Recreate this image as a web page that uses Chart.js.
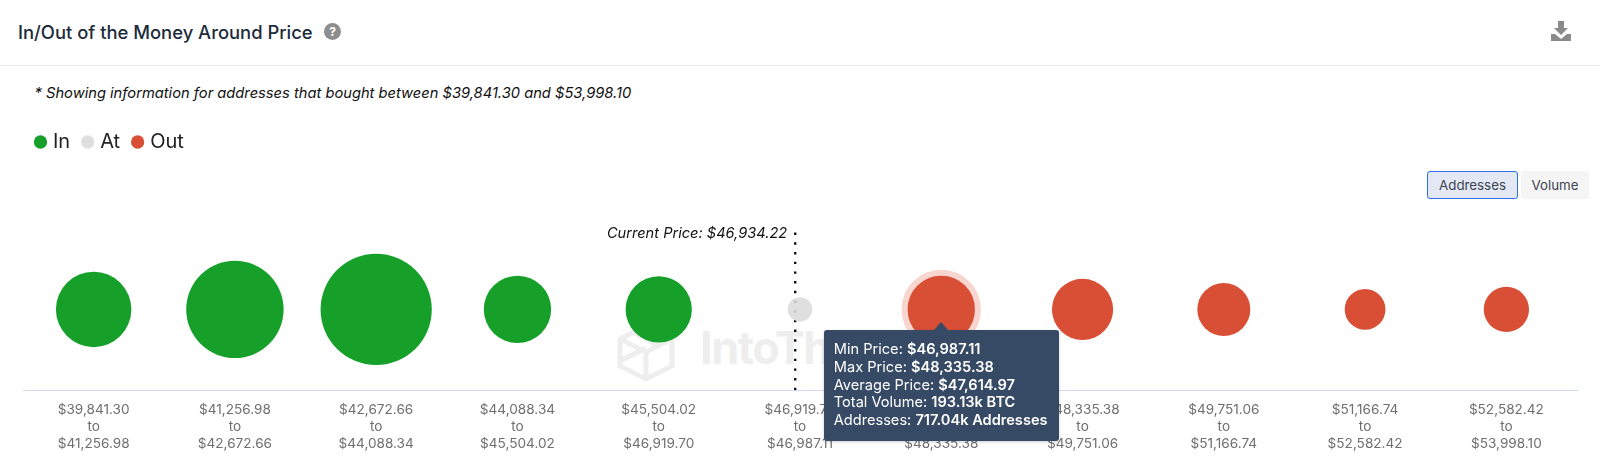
<!DOCTYPE html>
<html>
<head>
<meta charset="utf-8">
<title>In/Out of the Money Around Price</title>
<script src="https://cdn.jsdelivr.net/npm/chart.js@4"></script>
<style>
  html, body { margin: 0; padding: 0; background: #fff; }
  body { width: 1600px; height: 473px; position: relative; overflow: hidden; font-family: Inter, sans-serif; }
  .titulo { position: absolute; left: 18px; top: 21px; font-size: 18.4px; font-weight: 500; color: #1c2b3a; line-height: 22px; white-space: nowrap; }
  .ayuda { position: absolute; left: 324px; top: 23px; width: 17px; height: 17px; border-radius: 50%; background: #8e8e8e; color: #fff; font-size: 12px; font-weight: 700; line-height: 17px; text-align: center; }
  .linea { position: absolute; left: 0; top: 65px; width: 1600px; height: 1px; background: #ececec; }
  .nota { position: absolute; left: 34.5px; top: 84px; font-size: 14.7px; font-style: italic; color: #111; line-height: 18px; white-space: nowrap; }
  .descarga { position: absolute; left: 1551px; top: 21px; }
  .btn { position: absolute; top: 171px; height: 28px; line-height: 28px; text-align: center; font-size: 13.3px; color: #3c4450; border-radius: 3px; box-sizing: border-box; }
  #btnAddr { left: 1427px; width: 91px; background: #e3e8f4; border: 1px solid #2f6fed; line-height: 26px; }
  #btnVol { left: 1521px; width: 68px; background: #f5f5f5; }
  .marca { position: absolute; left: 617px; top: 323px; height: 59px; display: flex; align-items: center; color: #eeeeee; font-size: 45px; font-weight: 700; letter-spacing: -1.5px; white-space: nowrap; }
  .marca svg { margin-right: 25px; }
  .marca span { position: relative; top: -5px; }
  #lienzo { position: absolute; left: 0; top: 117px; width: 1600px; height: 356px; }
  #tip { position: absolute; display: none; width: 235px; box-sizing: border-box; padding: 10.5px 10px; background: #364a66; color: #fff; border-radius: 3px; font-size: 14.6px; line-height: 17.85px; white-space: nowrap; box-shadow: 0 1px 3px rgba(0,0,0,.2); }
  #tip b { font-weight: 600; }
  #tip::before { content: ""; position: absolute; left: 50%; top: -8px; margin-left: -7px; border-left: 7px solid transparent; border-right: 7px solid transparent; border-bottom: 8px solid #364a66; }
</style>
</head>
<body>
<div class="titulo">In/Out of the Money Around Price</div>
<div class="ayuda">?</div>
<div class="linea"></div>
<div class="nota">* Showing information for addresses that bought between $39,841.30 and $53,998.10</div>
<svg class="descarga" width="20" height="21" viewBox="0 0 20 21">
  <path d="M7 0h6v7h4l-7 7-7-7h4z" fill="#8a8a8a"/>
  <path d="M0 13h4l6 5 6-5h4v7H0z" fill="#8a8a8a"/>
</svg>
<div class="marca">
  <svg width="58" height="59" viewBox="0 0 58 59" fill="none" stroke="#eeeeee" stroke-width="5">
    <path d="M29 3 55 16v27L29 56 3 43V16z"/><path d="M3 16l26 13 26-13M29 29v27M16 9l26 14M3 38l26-13"/>
  </svg>
  <span>IntoTheBlock</span>
</div>
<div id="lienzo"><canvas id="grafico" width="1600" height="356"></canvas></div>
<div class="btn" id="btnAddr">Addresses</div>
<div class="btn" id="btnVol">Volume</div>
<div id="tip"></div>

<script>
const desde = ["$39,841.30","$41,256.98","$42,672.66","$44,088.34","$45,504.02","$46,919.70","$46,987.11","$48,335.38","$49,751.06","$51,166.74","$52,582.42"];
const hasta = ["$41,256.98","$42,672.66","$44,088.34","$45,504.02","$46,919.70","$46,987.11","$48,335.38","$49,751.06","$51,166.74","$52,582.42","$53,998.10"];
// direcciones en miles, estimadas del tamaño de cada burbuja
const direcciones = [901, 1500, 1956, 717, 695, 95, 717.04, 593, 445, 263, 325];
const estados = ["In","In","In","In","In","At","Out","Out","Out","Out","Out"];
const colores = { In: "#16a02a", At: "rgba(218,218,218,0.87)", Out: "#d94f36" };
const precioActualTxt = "$46,934.22";
const posPrecioActual = 4.966;
const detalle = [
  ["Min Price: ", "$46,987.11"],
  ["Max Price: ", "$48,335.38"],
  ["Average Price: ", "$47,614.97"],
  ["Total Volume: ", "193.13k BTC"],
  ["Addresses: ", "717.04k Addresses"]
];
const indiceActivo = 6;

const radio = v => 1.257 * Math.sqrt(v);

function puntos(estado) {
  const res = [];
  direcciones.forEach((v, i) => {
    if (estados[i] === estado) res.push({ x: i, y: 0.495, r: radio(v) });
  });
  return res;
}

function serie(estado) {
  return {
    type: "bubble",
    label: estado,
    data: puntos(estado),
    backgroundColor: colores[estado],
    hoverBackgroundColor: colores[estado],
    borderWidth: 0,
    borderColor: "#f7d6cf",
    hoverBorderColor: "#f7d6cf",
    hoverBorderWidth: 6,
    hoverRadius: 3
  };
}

// deja sitio entre la leyenda y el area del grafico
const espacioLeyenda = {
  id: "espacioLeyenda",
  beforeInit(chart) {
    const fit = chart.legend.fit;
    chart.legend.fit = function () {
      fit.call(this);
      this.height += 65;
    };
  }
};

const rotuloPrecio = {
  id: "rotuloPrecio",
  afterDatasetsDraw(chart) {
    const { ctx, scales } = chart;
    ctx.save();
    ctx.font = "italic 14.6px Inter";
    ctx.fillStyle = "#111";
    ctx.textAlign = "right";
    ctx.textBaseline = "middle";
    ctx.fillText("Current Price: " + precioActualTxt, scales.x.getPixelForValue(posPrecioActual) - 8, scales.y.top + 7);
    ctx.restore();
  }
};

function tooltipExterno({ chart, tooltip }) {
  const tip = document.getElementById("tip");
  if (tooltip.opacity === 0 || !tooltip.dataPoints) { tip.style.display = "none"; return; }
  tip.innerHTML = detalle.map(d => `${d[0]}<b>${d[1]}</b>`).join("<br>");
  const el = tooltip.dataPoints[0].element;
  const caja = chart.canvas.getBoundingClientRect();
  tip.style.display = "block";
  tip.style.left = (caja.left + el.x - 117.5) + "px";
  tip.style.top = (caja.top + el.y + 21) + "px";
}

const chart = new Chart(document.getElementById("grafico"), {
  data: {
    datasets: [
      serie("In"),
      serie("At"),
      serie("Out"),
      {
        type: "line",
        label: "Current Price",
        data: [{ x: posPrecioActual, y: 0 }, { x: posPrecioActual, y: 1 }],
        borderColor: "#111",
        borderWidth: 2.4,
        borderDash: [2.4, 7.3],
        pointRadius: 0,
        pointHoverRadius: 0,
        order: 5
      }
    ]
  },
  options: {
    responsive: false,
    animation: false,
    events: [],
    layout: { autoPadding: false, padding: { left: 23, right: 23, top: 0, bottom: 17 } },
    scales: {
      x: {
        type: "linear",
        min: -0.5,
        max: 10.5,
        afterBuildTicks: s => { s.ticks = desde.map((_, i) => ({ value: i })); },
        afterFit: s => { s.paddingLeft = 0; s.paddingRight = 0; },
        grid: { display: false },
        border: { display: true, color: "#d5dbf3", width: 1 },
        ticks: {
          autoSkip: false,
          maxRotation: 0,
          padding: 3,
          color: "#6f6f6f",
          font: { family: "Inter", size: 13.6, lineHeight: 1.27 },
          callback: v => [desde[v], "to", hasta[v]]
        }
      },
      y: { display: false, min: 0, max: 1 }
    },
    plugins: {
      legend: {
        position: "top",
        align: "start",
        labels: {
          usePointStyle: true,
          pointStyle: "circle",
          boxWidth: 5,
          boxHeight: 9.4,
          padding: 15,
          color: "#222",
          font: { family: "Inter", size: 20 },
          filter: it => it.text !== "Current Price"
        }
      },
      tooltip: { enabled: false, external: tooltipExterno }
    }
  },
  plugins: [espacioLeyenda, rotuloPrecio]
});

// la burbuja resaltada del original
const activo = [{ datasetIndex: 2, index: estados.slice(0, indiceActivo).filter(e => e === "Out").length }];
chart.setActiveElements(activo);
chart.tooltip.setActiveElements(activo, { x: 0, y: 0 });
chart.update();
</script>
</body>
</html>
